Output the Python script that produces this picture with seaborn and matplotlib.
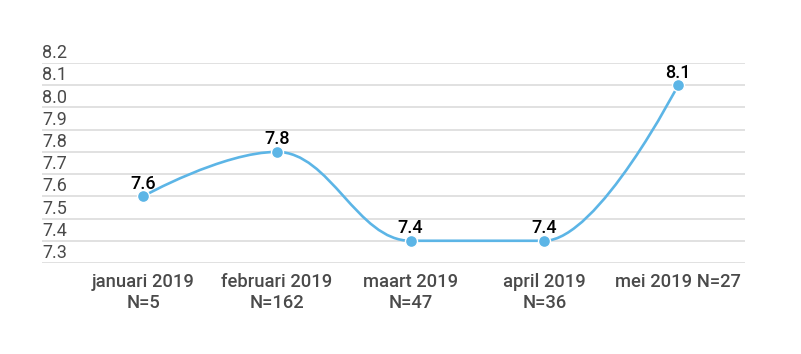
import numpy as np
import pandas as pd
import matplotlib
matplotlib.use("Agg")
import matplotlib.pyplot as plt
from matplotlib.path import Path
from matplotlib.patches import PathPatch
import matplotlib.transforms as mtransforms
import seaborn as sns

# ---- data ----
categories = ["januari 2019\nN=5", "februari 2019\nN=162", "maart 2019\nN=47",
              "april 2019\nN=36", "mei 2019 N=27"]
values = [7.6, 7.8, 7.4, 7.4, 8.1]
yticks = [7.3, 7.4, 7.5, 7.6, 7.7, 7.8, 7.9, 8.0, 8.1, 8.2]

LINE = "#5cb5e6"
sns.set_theme(style="white")
plt.rcParams["font.family"] = ["Roboto", "DejaVu Sans"]

W, H = 801, 354
fig = plt.figure(figsize=(W / 100, H / 100), dpi=100)
ax = fig.add_axes([42 / W, 1 - 263 / H, (745 - 42) / W, 200 / H])

df = pd.DataFrame({"x": np.arange(len(values)), "y": values})

# Highcharts-like spline (control points from the data)
def spline_path(xs, ys, smoothing=1.5):
    n = len(xs)
    lc = [None] * n
    rc = [None] * n
    denom = smoothing + 1
    for i in range(1, n - 1):
        px, py = xs[i], ys[i]
        lx, ly = xs[i - 1], ys[i - 1]
        nx, ny = xs[i + 1], ys[i + 1]
        lcx = (smoothing * px + lx) / denom
        lcy = (smoothing * py + ly) / denom
        rcx = (smoothing * px + nx) / denom
        rcy = (smoothing * py + ny) / denom
        corr = 0
        if rcx != lcx:
            corr = (rcy - lcy) * (rcx - px) / (rcx - lcx) + py - rcy
        lcy += corr
        rcy += corr
        if lcy > ly and lcy > py:
            lcy = max(ly, py); rcy = 2 * py - lcy
        elif lcy < ly and lcy < py:
            lcy = min(ly, py); rcy = 2 * py - lcy
        if rcy > ny and rcy > py:
            rcy = max(ny, py); lcy = 2 * py - rcy
        elif rcy < ny and rcy < py:
            rcy = min(ny, py); lcy = 2 * py - rcy
        lc[i] = (lcx, lcy)
        rc[i] = (rcx, rcy)
    verts = [(xs[0], ys[0])]
    codes = [Path.MOVETO]
    for i in range(1, n):
        c1 = rc[i - 1] if rc[i - 1] is not None else (xs[i - 1], ys[i - 1])
        c2 = lc[i] if lc[i] is not None else (xs[i], ys[i])
        verts += [c1, c2, (xs[i], ys[i])]
        codes += [Path.CURVE4] * 3
    return Path(verts, codes)

ax.set_xlim(-0.755, 4.5)
ax.set_ylim(7.3, 8.2)

for t in yticks:
    ax.axhline(t, color="#dedede", lw=1.3, zorder=0)

patch = PathPatch(spline_path(list(df["x"]), list(df["y"])), facecolor="none",
                  edgecolor=LINE, lw=1.9, zorder=2, capstyle="round")
ax.add_patch(patch)

sns.scatterplot(data=df, x="x", y="y", ax=ax, color=LINE, s=75,
                edgecolor="white", linewidth=1.0, zorder=3, clip_on=False, legend=False)

for xi, v in zip(df["x"], df["y"]):
    ax.annotate(f"{v:.1f}", (xi, v), xytext=(0, 5.5), textcoords="offset points",
                ha="center", va="baseline", fontsize=13, fontweight="medium",
                color="#000000", zorder=4)

# y labels drawn above grid lines at the left edge
trans = mtransforms.blended_transform_factory(ax.transAxes, ax.transData)
off = mtransforms.ScaledTranslation(0, 3.5 / 72, fig.dpi_scale_trans)
for t in yticks:
    ax.text(0, t, f"{t:.1f}", transform=trans + off, ha="left", va="baseline",
            fontsize=13, color="#4a4a4a")

ax.set_xticks(df["x"])
ax.set_xticklabels(categories, fontsize=13.2, fontweight="medium", color="#4a4a4a",
                   linespacing=1.2)
ax.set_yticks([])
ax.tick_params(axis="x", length=0, pad=7)
ax.set_xlabel("")
ax.set_ylabel("")
for s in ax.spines.values():
    s.set_visible(False)
ax.patch.set_alpha(0)

fig.savefig("out.png", dpi=100)
